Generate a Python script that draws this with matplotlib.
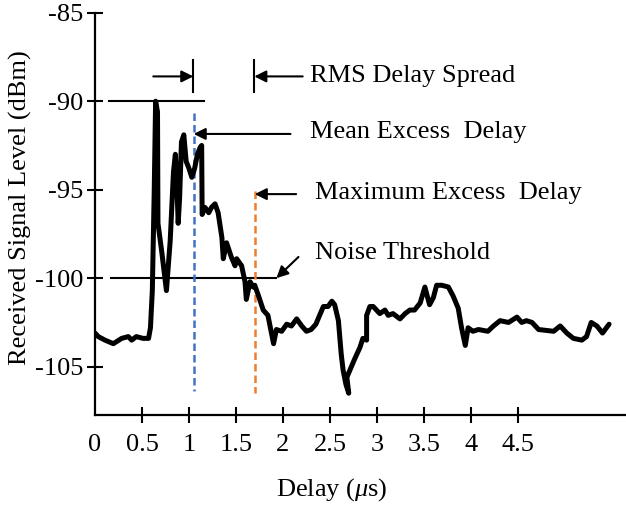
import matplotlib
matplotlib.use("Agg")
import matplotlib.pyplot as plt

plt.rcParams['font.family'] = ['Liberation Serif', 'DejaVu Serif']
plt.rcParams['mathtext.fontset'] = 'custom'
plt.rcParams['mathtext.it'] = 'Liberation Serif:italic'
plt.rcParams['mathtext.rm'] = 'Liberation Serif'
plt.rcParams['axes.unicode_minus'] = False

# measured power delay profile
delay = [0.0, 0.035, 0.106, 0.195, 0.284, 0.355, 0.39, 0.44, 0.51, 0.57,
         0.59, 0.61, 0.63, 0.645, 0.665, 0.67, 0.71, 0.76, 0.80, 0.835,
         0.855, 0.87, 0.885, 0.90, 0.92, 0.945, 0.97, 1.00, 1.03, 1.06,
         1.09, 1.12, 1.135, 1.14, 1.17, 1.21, 1.24, 1.277, 1.31, 1.35,
         1.365, 1.40, 1.45, 1.49, 1.507, 1.56, 1.596, 1.61, 1.65, 1.684,
         1.70, 1.74, 1.79, 1.84, 1.90, 1.93, 1.986, 2.04, 2.09, 2.146,
         2.20, 2.25, 2.30, 2.35, 2.39, 2.43, 2.48, 2.52, 2.55, 2.59,
         2.62, 2.64, 2.67, 2.70, 2.68, 2.76, 2.82, 2.85, 2.89, 2.89,
         2.925, 2.96, 3.03, 3.085, 3.12, 3.17, 3.245, 3.30, 3.35, 3.40,
         3.46, 3.51, 3.56, 3.60, 3.635, 3.69, 3.76, 3.81, 3.865, 3.90,
         3.94, 3.97, 4.02, 4.08, 4.13, 4.18, 4.24, 4.31, 4.40, 4.49,
         4.54, 4.59, 4.65, 4.72, 4.80, 4.88, 4.95, 5.02, 5.09, 5.18,
         5.23, 5.28, 5.34, 5.40, 5.47]
level = [-103.1, -103.3, -103.5, -103.7, -103.4, -103.3, -103.5, -103.3, -103.4, -103.4,
         -102.8, -100.7, -95.1, -90.0, -90.6, -96.9, -98.5, -100.7, -97.9, -94.0,
         -93.0, -94.5, -96.9, -95.5, -92.3, -91.9, -93.4, -93.8, -94.3, -93.8,
         -93.0, -92.6, -92.5, -96.4, -96.0, -96.3, -96.0, -95.8, -96.3, -97.7,
         -98.9, -98.0, -98.8, -99.3, -98.9, -99.3, -100.2, -101.2, -100.2, -100.5,
         -100.4, -101.0, -101.8, -102.1, -103.7, -102.9, -103.0, -102.6, -102.7, -102.3,
         -102.7, -103.0, -102.9, -102.6, -102.1, -101.6, -101.6, -101.3, -101.5, -102.4,
         -104.3, -105.2, -106.0, -106.5, -105.6, -104.6, -103.9, -103.4, -103.5, -102.1,
         -101.6, -101.6, -102.0, -101.8, -102.1, -102.0, -102.3, -102.0, -101.8, -101.8,
         -101.4, -100.5, -101.5, -101.1, -100.4, -100.4, -100.5, -101.0, -101.7, -102.8,
         -103.8, -102.8, -103.0, -102.9, -102.95, -103.0, -102.7, -102.4, -102.5, -102.2,
         -102.5, -102.4, -102.5, -102.9, -102.95, -103.0, -102.7, -103.1, -103.4, -103.5,
         -103.3, -102.5, -102.7, -103.1, -102.6]

x_ticks = [0, 0.5, 1, 1.5, 2, 2.5, 3, 3.5, 4, 4.5]
x_tick_labels = ['0', '0.5', '1', '1.5', '2', '2.5', '3', '3.5', '4', '4.5']
y_ticks = [-105, -100, -95, -90, -85]

peak_level = -90.0
noise_threshold = -100.0
mean_excess = 1.05
rms_spread_end = 1.695
max_excess = 1.70

fig = plt.figure(figsize=(6.26, 5.08), dpi=100)
ax = fig.add_axes([95 / 626, 93 / 508, 531 / 626, 402.3 / 508])

ax.plot(delay, level, color='black', lw=3.6, solid_joinstyle='round',
        solid_capstyle='round', zorder=3)

# peak and noise reference lines
ax.plot([0.15, 1.16], [peak_level, peak_level], color='black', lw=1.5)
ax.plot([0.167, 1.93], [noise_threshold, noise_threshold], color='black', lw=1.5)

# mean / max excess delay markers
ax.plot([mean_excess, mean_excess], [-90.66, -106.4], color='#4472C4',
        lw=1.8, dashes=(3, 1.6))
ax.plot([max_excess, max_excess], [-95.1, -106.5], color='#ED7D31',
        lw=1.8, dashes=(3, 1.6))

# rms delay spread brackets
for xb in (mean_excess - 0.004, rms_spread_end):
    ax.plot([xb, xb], [-87.7, -89.5], color='black', lw=1.5)

arrow = dict(arrowstyle='-|>,head_length=0.7,head_width=0.35',
             color='black', lw=1.5, shrinkA=0, shrinkB=0)
ax.annotate('', xy=(mean_excess - 0.004, -88.6), xytext=(0.62, -88.6),
            arrowprops=arrow)
ax.annotate('', xy=(rms_spread_end, -88.6), xytext=(2.21, -88.6),
            arrowprops=arrow)
ax.annotate('', xy=(mean_excess, -91.85), xytext=(2.08, -91.85),
            arrowprops=arrow)
ax.annotate('', xy=(max_excess, -95.25), xytext=(2.14, -95.25),
            arrowprops=arrow)
ax.annotate('', xy=(1.93, noise_threshold), xytext=(2.165, -98.8),
            arrowprops=arrow)

fs = 19
ax.text(2.287, -88.55, 'RMS Delay Spread', fontsize=fs, va='center')
ax.text(2.287, -91.75, 'Mean Excess  Delay', fontsize=fs, va='center')
ax.text(2.34, -95.2, 'Maximum Excess  Delay', fontsize=fs, va='center')
ax.text(2.34, -98.6, 'Noise Threshold', fontsize=fs, va='center')

ax.set_xlim(0, 5.65)
ax.set_ylim(-107.73, -85)
ax.set_xticks(x_ticks)
ax.set_xticklabels(x_tick_labels)
ax.set_yticks(y_ticks)
ax.xaxis.get_major_ticks()[0].tick1line.set_visible(False)

ax.spines['top'].set_visible(False)
ax.spines['right'].set_visible(False)
for side in ('left', 'bottom'):
    ax.spines[side].set_linewidth(1.6)
ax.tick_params(direction='inout', length=11, width=1.5, labelsize=fs)
ax.tick_params(axis='x', pad=8)
ax.tick_params(axis='y', pad=3)

ax.set_xlabel(r'Delay ($\mathit{\mu}$s)', fontsize=fs)
ax.xaxis.set_label_coords((332 - 95) / 531, -0.152)
ax.set_ylabel('Received Signal Level (dBm)', fontsize=fs)
ax.yaxis.set_label_coords(-0.118, 0.515)

fig.savefig('out.png', dpi=100)
